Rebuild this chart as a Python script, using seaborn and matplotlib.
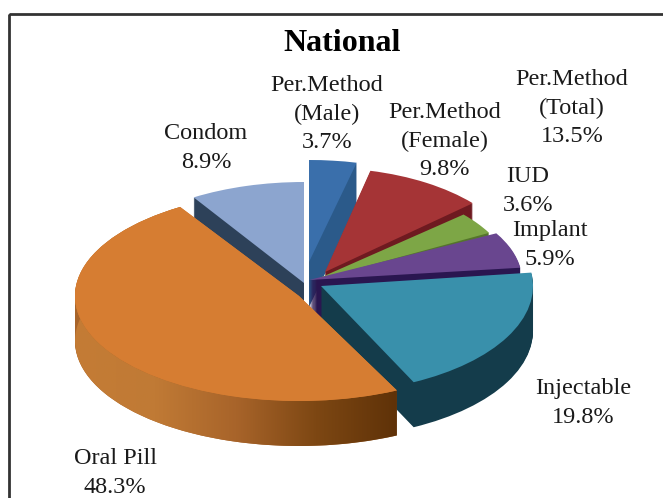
import numpy as np
import matplotlib
matplotlib.use("Agg")
import matplotlib.pyplot as plt
from matplotlib.patches import Polygon, Rectangle
import seaborn as sns

# slices, clockwise from twelve o'clock
methods = ["Per.Method\n(Male)", "Per.Method\n(Female)", "IUD", "Implant",
           "Injectable", "Oral Pill", "Condom"]
shares = [3.7, 9.8, 3.6, 5.9, 19.8, 48.3, 8.9]
total_name = "Per.Method\n(Total)"
total_share = 13.5

top_colors = ["#3a6fab", "#a53436", "#7da646", "#69468f", "#3990ab", "#d67d32", "#8ca5cf"]
side_colors = ["#2b5a8a", "#6e1a20", "#55752c", "#2a1650", "#143c4b", "#a8642a", "#2d4159"]

# where each slice sits in the picture (pixels): tip x, tip y, x radius, y radius
tip_x = [309, 325, 315, 309, 321, 299, 304]
tip_y = [262, 272, 280, 280, 286, 296, 283]
rad_x = [207, 197, 198, 213, 212, 224, 208]
rad_y = [102, 104, 99, 98, 107, 105, 101]
depth = 45
draw_order = [0, 6, 1, 2, 3, 4, 5]

label_x = [327, 445, 528, 550, 583, 115, 206]
label_y = [114, 141, 191, 245, 403, 473, 148]
total_x, total_y = 572, 108

W, H = 663, 498

sns.set_theme(style="white")
plt.rcParams["font.family"] = ["Liberation Serif", "DejaVu Serif"]

fig = plt.figure(figsize=(W / 100, H / 100), dpi=100, facecolor="white")

start = np.cumsum([0] + shares[:-1])

for i in draw_order:
    ax = fig.add_axes([0, 0, 1, 1], facecolor="none")
    # dark stack below the top face gives the thickness
    for d in range(depth, 0, -1):
        ax.pie([shares[i], 100 - shares[i]], colors=[side_colors[i], "none"],
               startangle=90 - start[i] * 3.6, counterclock=False,
               center=(0, -d / rad_y[i]), radius=1, wedgeprops={"linewidth": 0})
    ax.pie([shares[i], 100 - shares[i]], colors=[top_colors[i], "none"],
           startangle=90 - start[i] * 3.6, counterclock=False,
           center=(0, 0), radius=1, wedgeprops={"linewidth": 0})
    ax.set_aspect("auto")
    ax.set_xlim(-tip_x[i] / rad_x[i], (W - tip_x[i]) / rad_x[i])
    ax.set_ylim(-(H - tip_y[i]) / rad_y[i], tip_y[i] / rad_y[i])
    ax.axis("off")

    # oral pill rim runs from mid orange to dark brown
    if methods[i] == "Oral Pill":
        a = np.radians(90 - start[i] * 3.6 - np.linspace(0, shares[i] * 3.6, 120))
        x, y = np.cos(a), np.sin(a)
        d = depth / rad_y[i]
        rim = Polygon(np.r_[np.c_[x, y], np.c_[x, y - d][::-1]], closed=True,
                      transform=ax.transData, facecolor="none", edgecolor="none")
        ax.add_patch(rim)
        cmap = sns.blend_palette(["#5f3208", "#7d4713", "#a8642a", "#c07a35", "#c47c35"], as_cmap=True)
        xlim, ylim = ax.get_xlim(), ax.get_ylim()
        im = ax.imshow(np.linspace(0, 1, 256)[None, :], cmap=cmap, aspect="auto",
                       extent=[x.max(), x.min(), y.min() - d, y.max()], zorder=3)
        im.set_clip_path(rim)
        ax.set_xlim(xlim)
        ax.set_ylim(ylim)
        # put the top face back over the rim
        ax.pie([shares[i], 100 - shares[i]], colors=[top_colors[i], "none"],
               startangle=90 - start[i] * 3.6, counterclock=False,
               center=(0, 0), radius=1, wedgeprops={"linewidth": 0, "zorder": 4})
        ax.set_aspect("auto")
        ax.set_xlim(xlim)
        ax.set_ylim(ylim)
        ax.axis("off")

# frame and all the text sit in a pixel-sized axes on top
top = fig.add_axes([0, 0, 1, 1], facecolor="none")
top.set_xlim(0, W)
top.set_ylim(H, 0)
top.axis("off")
# frame only shows on the top and left, the rest runs off the picture
top.add_patch(Rectangle((9, 14), 680, 520, fill=False, edgecolor="#333333", linewidth=2))

top.text(342, 43, "National", ha="center", va="center", fontsize=23, fontweight="bold", color="black")
for name, val, lx, ly in zip(methods, shares, label_x, label_y):
    top.text(lx, ly, f"{name}\n{val}%", ha="center", va="center", fontsize=17.5,
             linespacing=1.45, color="#1a1a1a")
top.text(total_x, total_y, f"{total_name}\n{total_share}%", ha="center", va="center",
         fontsize=17.5, linespacing=1.45, color="#1a1a1a")

fig.savefig("out.png", dpi=100)
